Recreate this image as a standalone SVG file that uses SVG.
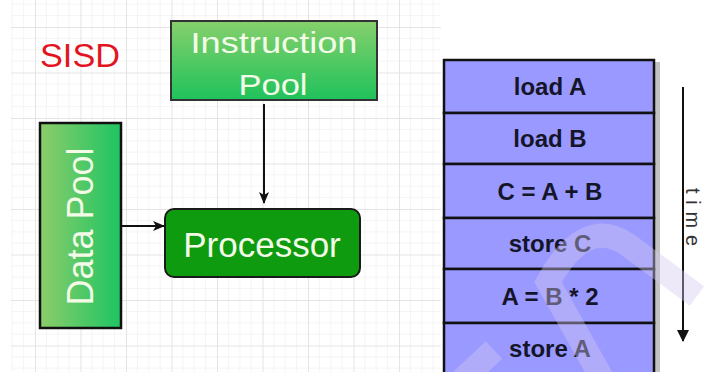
<svg xmlns="http://www.w3.org/2000/svg" width="706" height="372" viewBox="0 0 706 372">
<defs>
<pattern id="grid" patternUnits="userSpaceOnUse" x="35" y="27" width="45.5" height="45.5">
<path d="M11.4 0V45.5M22.75 0V45.5M34.1 0V45.5M0 11.4H45.5M0 22.75H45.5M0 34.1H45.5" stroke="#f4f4f4" stroke-width="1" fill="none"/>
<path d="M0.5 0V45.5M0 0.5H45.5" stroke="#e4e4e4" stroke-width="1" fill="none"/>
</pattern>
<linearGradient id="gV" x1="0" y1="0" x2="0" y2="1">
<stop offset="0" stop-color="#86d06c"/>
<stop offset="1" stop-color="#1fc25b"/>
</linearGradient>
<linearGradient id="gH" x1="0" y1="0" x2="1" y2="0">
<stop offset="0" stop-color="#8ccd6a"/>
<stop offset="1" stop-color="#1ec463"/>
</linearGradient>
<marker id="ah" markerWidth="12" markerHeight="10" refX="11" refY="5" orient="auto" markerUnits="userSpaceOnUse">
<path d="M0,0 L12,5 L0,10 L3,5 z" fill="#111"/>
</marker>
<marker id="ahT" markerWidth="12" markerHeight="14" refX="11" refY="6" orient="auto" markerUnits="userSpaceOnUse">
<path d="M0,0 L12,6 L0,12 z" fill="#111"/>
</marker>
<style>
.wt{font-family:"Liberation Sans",Arial,sans-serif;fill:#f3fbe8;text-anchor:middle}
.row{fill:#9999ff;stroke:#111;stroke-width:2.5}
.rt{font-family:"Liberation Sans",Arial,sans-serif;font-weight:bold;font-size:24px;fill:#15152a;text-anchor:middle}
.edge{stroke:#111;stroke-width:2;fill:none}
</style>
</defs>
<rect width="706" height="372" fill="#ffffff"/>
<rect x="11" y="0" width="430" height="372" fill="url(#grid)"/>

<g id="sisd">
<text x="40" y="67" font-family="Liberation Sans, Arial, sans-serif" font-size="33" fill="#e3141f" textLength="80" lengthAdjust="spacingAndGlyphs">SISD</text>
</g>

<g id="instruction-pool">
<rect x="171" y="21" width="206" height="79" fill="url(#gV)" stroke="#333" stroke-width="2"/>
<text class="wt" x="274" y="53" font-size="30" textLength="167" lengthAdjust="spacingAndGlyphs">Instruction</text>
<text class="wt" x="273" y="95" font-size="30" textLength="69" lengthAdjust="spacingAndGlyphs">Pool</text>
</g>

<g id="data-pool">
<rect x="40" y="123" width="81" height="205" fill="url(#gH)" stroke="#111" stroke-width="2.5"/>
<text class="wt" x="0" y="0" font-size="36" transform="translate(93 226.5) rotate(-90)">Data Pool</text>
</g>

<g id="processor">
<rect x="165" y="209" width="195" height="68" rx="9" fill="#0f9b0f" stroke="#1a1a1a" stroke-width="2"/>
<text class="wt" x="262" y="257" font-size="35">Processor</text>
</g>

<g id="connectors">
<line class="edge" x1="264" y1="104" x2="264" y2="203" marker-end="url(#ah)"/>
<line class="edge" x1="121" y1="226" x2="164" y2="226" marker-end="url(#ah)"/>
</g>

<g id="instruction-stack">
<rect x="654" y="62" width="6" height="320" fill="#777" opacity="0.45"/>
<rect class="row" x="444" y="60" width="210" height="53"/>
<rect class="row" x="444" y="113" width="210" height="51"/>
<rect class="row" x="444" y="164" width="210" height="54"/>
<rect class="row" x="444" y="218" width="210" height="51"/>
<rect class="row" x="444" y="269" width="210" height="54"/>
<rect class="row" x="444" y="323" width="210" height="60"/>
<text class="rt" x="550" y="95">load A</text>
<text class="rt" x="550" y="147">load B</text>
<text class="rt" x="550" y="200">C = A + B</text>
<text class="rt" x="550" y="252">store C</text>
<text class="rt" x="550" y="305">A = B * 2</text>
<text class="rt" x="550" y="357">store A</text>
</g>

<g id="time-axis">
<line x1="683" y1="87" x2="683" y2="341" stroke="#111" stroke-width="2" marker-end="url(#ahT)"/>
<text x="0" y="0" font-family="Liberation Sans, Arial, sans-serif" font-size="20" fill="#333" text-anchor="middle" textLength="58" lengthAdjust="spacing" transform="translate(686 217) rotate(90)">time</text>
</g>

<g id="watermark" fill="none" stroke="rgb(210,200,240)" stroke-opacity="0.4" stroke-width="24">
<path d="M603 380 L548 282 Q585 215 628 245 L697 296"/>
<path d="M462 380 L494 350"/>
</g>
</svg>
